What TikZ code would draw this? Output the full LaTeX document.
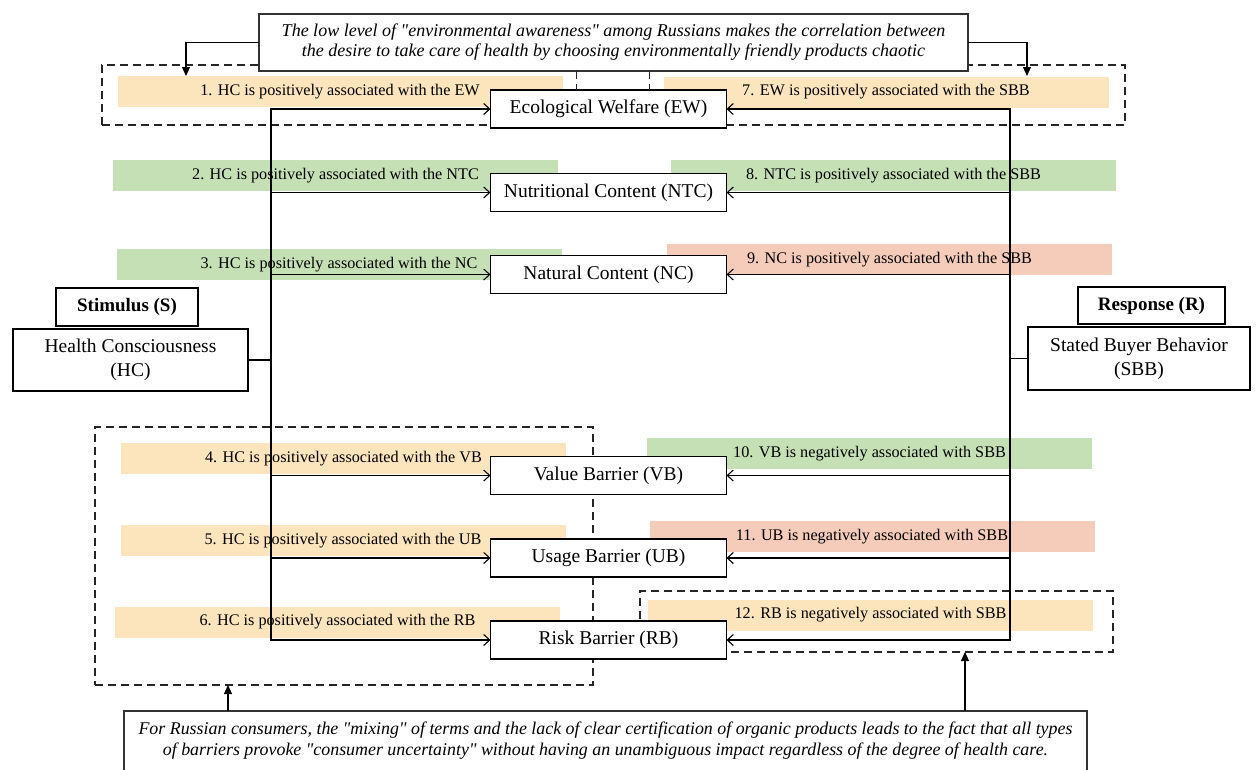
\documentclass[tikz,border=0pt]{standalone}
\usepackage{fontspec}
\setmainfont{Liberation Serif}
\usetikzlibrary{arrows.meta}
\definecolor{bandorange}{RGB}{252,228,188}
\definecolor{bandgreen}{RGB}{198,224,181}
\definecolor{bandred}{RGB}{245,204,186}
\newcommand{\qmark}{\textquotedbl}
\begin{document}
\begin{tikzpicture}[x=1pt,y=-1pt,
  every node/.style={inner sep=0pt, outer sep=0pt},
  construct/.style={draw=black, line width=1.1pt, fill=white, minimum width=236pt,
    minimum height=38pt, font=\fontsize{19.5}{24}\selectfont, align=center},
  band/.style={minimum width=445pt, minimum height=31pt, font=\fontsize{16.2}{19}\selectfont},
  groupbox/.style={draw=black!85, line width=1.1pt, dash pattern=on 8pt off 5pt},
  note/.style={draw=black!80, line width=1.1pt, fill=white, align=center,
    font=\fontsize{18}{20}\selectfont\itshape},
  link/.style={line width=1.1pt},
  effect/.style={link, -{Straight Barb[length=6pt,width=11pt]}},
  hint/.style={link, -{Triangle[length=9pt,width=8pt]}},
]
\useasboundingbox (0,0) rectangle (1256,769);
\clip (0,0) rectangle (1256,769);

% coloured hypothesis bands
\node[band, fill=bandorange] (B1)  at (340,91.5)   {1. HC is positively associated with the EW};
\node[band, fill=bandorange] (B7)  at (886,92)     {7. EW is positively associated with the SBB};
\node[band, fill=bandgreen]  (B2)  at (335.5,175.5) {2. HC is positively associated with the NTC};
\node[band, fill=bandgreen]  (B8)  at (893.5,175.5) {8. NTC is positively associated with the SBB};
\node[band, fill=bandgreen]  (B3)  at (339,264.5)  {3. HC is positively associated with the NC};
\node[band, fill=bandred]    (B9)  at (889.5,259.5) {9. NC is positively associated with the SBB};
\node[band, fill=bandorange] (B4)  at (343.5,458.5) {4. HC is positively associated with the VB};
\node[band, fill=bandgreen]  (B10) at (869.5,453.5) {10. VB is negatively associated with SBB};
\node[band, fill=bandorange] (B5)  at (343,540.5)  {5. HC is positively associated with the UB};
\node[band, fill=bandred]    (B11) at (872,536.5)  {11. UB is negatively associated with SBB};
\node[band, fill=bandorange] (B6)  at (337.5,622)  {6. HC is positively associated with the RB};
\node[band, fill=bandorange] (B12) at (870.5,615)  {12. RB is negatively associated with SBB};

% dashed groupings
\node[groupbox, minimum width=1023pt, minimum height=60pt] (DT) at (613.5,95) {};
\node[groupbox, minimum width=498pt, minimum height=258pt] (DL) at (344,556) {};
\node[groupbox, minimum width=473pt, minimum height=61pt] (DR) at (876.5,621.5) {};

% hubs of the stimulus and response sides
\coordinate (hubL) at (271,360);
\coordinate (hubR) at (1010,358.5);

% mediating constructs
\node[construct] (EW)  at (608.5,109)   {Ecological Welfare (EW)};
\node[construct] (NTC) at (608.5,192.5) {Nutritional Content (NTC)};
\node[construct] (NC)  at (608.5,274.5) {Natural Content (NC)};
\node[construct] (VB)  at (608.5,475.5) {Value Barrier (VB)};
\node[construct] (UB)  at (608.5,558)   {Usage Barrier (UB)};
\node[construct] (RB)  at (608.5,640)   {Risk Barrier (RB)};

% stimulus and response
\node[construct, minimum width=142pt, minimum height=38pt, font=\fontsize{19}{24}\selectfont\bfseries] (S) at (127,307) {Stimulus (S)};
\node[construct, minimum width=235pt, minimum height=62pt] (HC) at (130.5,360) {Health Consciousness\\(HC)};
\node[construct, minimum width=147pt, minimum height=37pt, font=\fontsize{19}{24}\selectfont\bfseries] (R) at (1151.5,305.5) {Response (R)};
\node[construct, minimum width=222pt, minimum height=63pt] (SBB) at (1139,358.5) {Stated Buyer Behavior\\(SBB)};

% branching lines
\draw[link] (HC.east) -- (hubL);
\draw[link, line cap=rect] (hubL |- EW.west) -- (hubL |- RB.west);
\foreach \n in {EW,NTC,NC,VB,UB,RB}
  \draw[effect] (hubL |- \n.west) -- (\n.west);
\draw[link] (SBB.west) -- (hubR);
\draw[link, line cap=rect] (hubR |- EW.east) -- (hubR |- RB.east);
\foreach \n in {EW,NTC,NC,VB,UB,RB}
  \draw[effect] (hubR |- \n.east) -- (\n.east);

% explanatory notes
\node[note, minimum width=709pt, minimum height=57pt] (TN) at (613.5,42.5)
  {The low level of \qmark environmental awareness\qmark{} among Russians makes the correlation between\\
   the desire to take care of health by choosing environmentally friendly products chaotic};
\node[note, minimum width=963pt, minimum height=60pt, font=\fontsize{17.9}{21}\selectfont\itshape] (BN) at (605.5,741)
  {For Russian consumers, the \qmark mixing\qmark{} of terms and the lack of clear certification of organic products leads to the fact that all types\\
   of barriers provoke \qmark consumer uncertainty\qmark{} without having an unambiguous impact regardless of the degree of health care.};

\coordinate (t1) at (186,76);
\coordinate (t7) at (1027,76);
\draw[hint] (TN.west) -| (t1);
\draw[hint] (TN.east) -| (t7);
\coordinate (d1) at (576,0);
\coordinate (d2) at (649,0);
\draw[groupbox, line width=0.9pt] (TN.south -| d1) -- (EW.north -| d1);
\draw[groupbox, line width=0.9pt] (TN.south -| d2) -- (EW.north -| d2);

\coordinate (b1) at (228,0);
\coordinate (b2) at (965,0);
\draw[hint] (BN.north -| b1) -- (DL.south -| b1);
\draw[hint] (BN.north -| b2) -- (DR.south -| b2);
\end{tikzpicture}
\end{document}
